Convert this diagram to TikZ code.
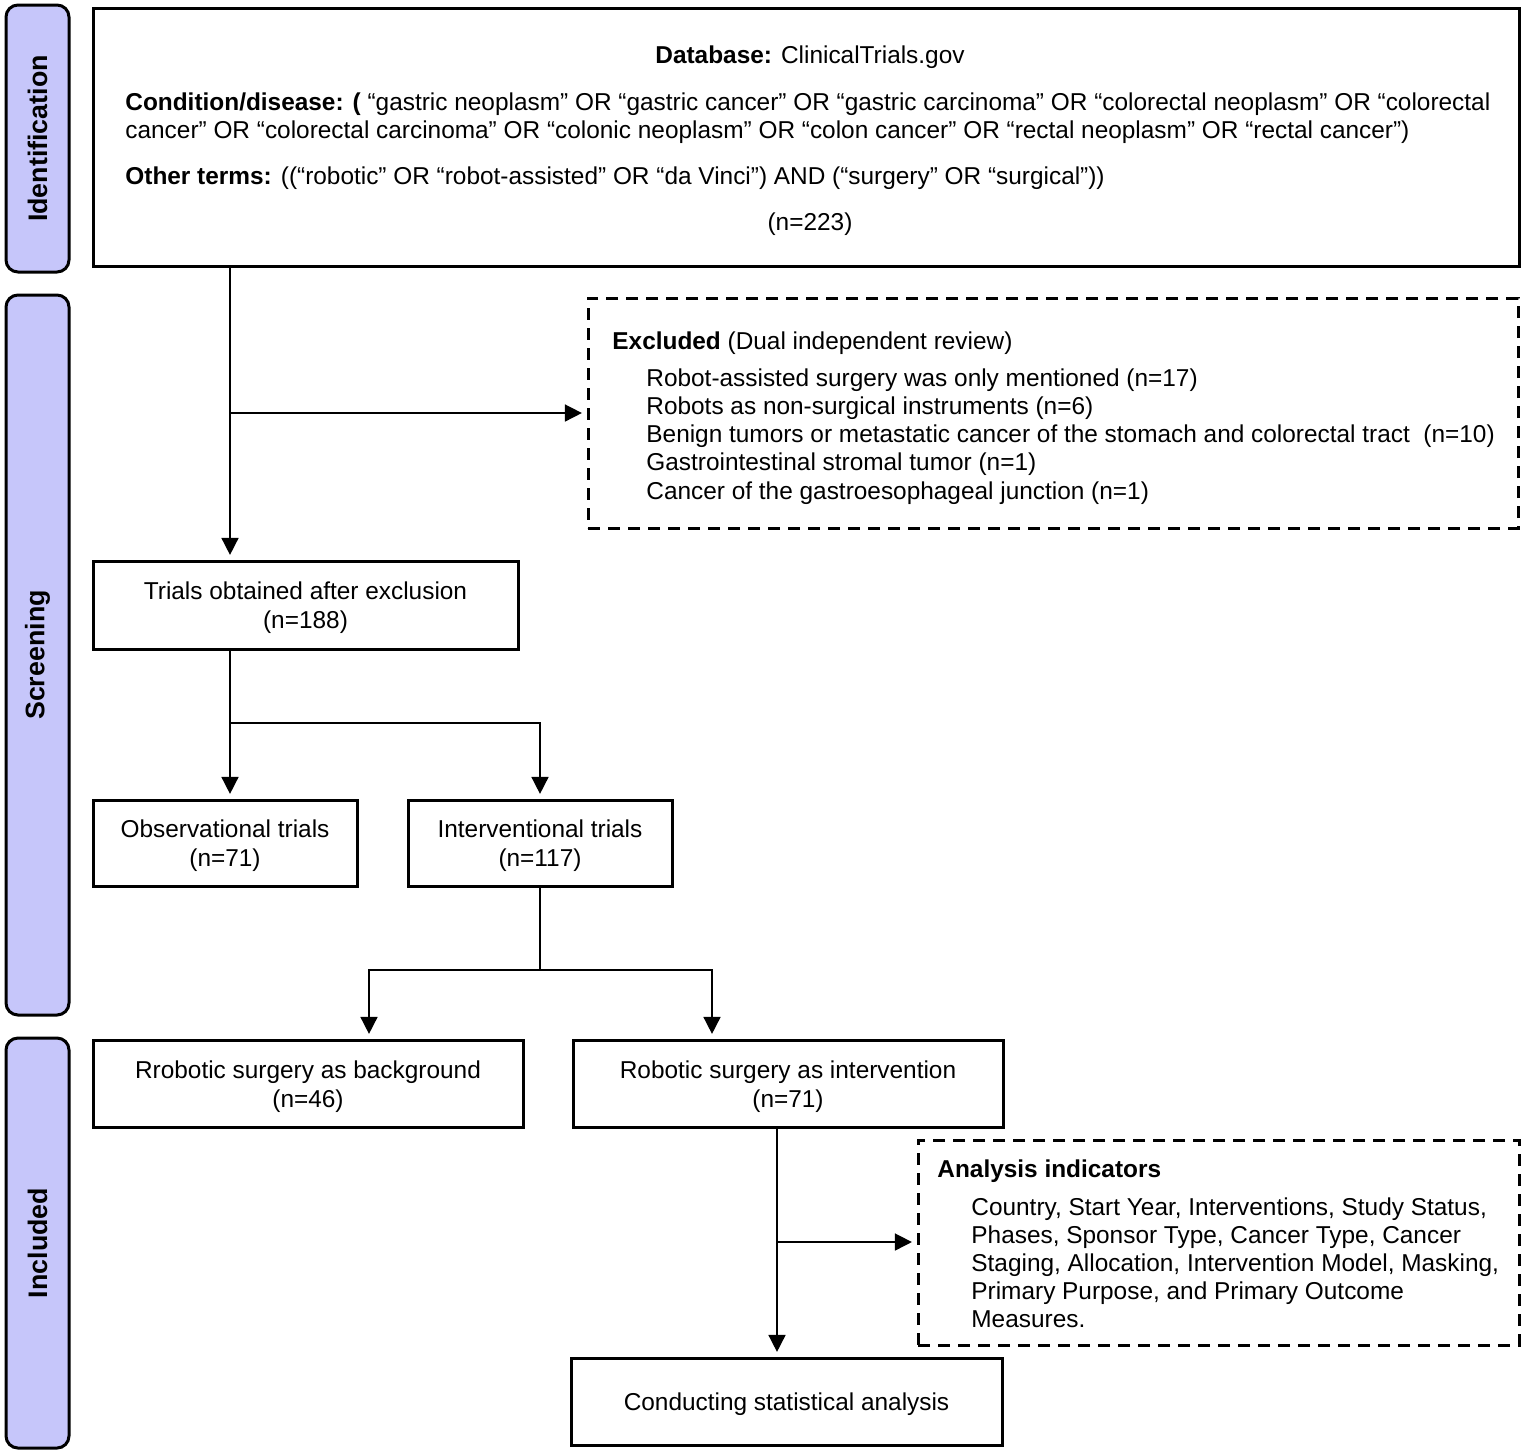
\documentclass[tikz,border=0pt]{standalone}
\usepackage{fontspec}
\setmainfont{Liberation Sans}
\usetikzlibrary{arrows.meta,calc}
\definecolor{barfill}{RGB}{198,198,250}
\newcommand\boxstrut{\rule{0pt}{11.9pt}}
\begin{document}
\begin{tikzpicture}[x=0.5pt,y=-0.5pt,
  every node/.style={font=\fontsize{12.2pt}{14.5pt}\selectfont, inner sep=0pt},
  box/.style={draw, line width=1.5pt, align=center, fill=white},
  dbox/.style={draw, line width=1.5pt, dash pattern=on 6pt off 4pt},
  bar/.style={draw, line width=1.5pt, fill=barfill, rounded corners=6pt, rotate=90,
    minimum height=31.5pt, font=\fontsize{13.4pt}{16pt}\selectfont\bfseries},
  conn/.style={line width=0.8pt},
  arr/.style={conn, shorten >=2.3pt, -{Triangle[length=8.5pt,width=8.5pt]}},
  txt/.style={anchor=base west},
  ctxt/.style={anchor=base}
]
\useasboundingbox (0,0) rectangle (1524,1453);

% side bars
\node[bar, minimum width=133.5pt] (idbar) at (37.5,138.5) {Identification};
\node[bar, minimum width=360pt] (scrbar) at (37.5,655) {Screening};
\node[bar, minimum width=205pt] (incbar) at (37.5,1243) {Included};

% boxes
\node[box, minimum width=713pt, minimum height=129pt] (top) at (806,137) {};
\node[dbox, minimum width=465pt, minimum height=115pt] (excl) at (1053,413) {};
\node[box, minimum width=212.5pt, minimum height=44pt] (trials) at (305.5,605) {\boxstrut Trials obtained after exclusion\\(n=188)};
\node[box, minimum width=132pt, minimum height=43pt] (obs) at (225,843) {\boxstrut Observational trials\\(n=71)};
\node[box, minimum width=132pt, minimum height=43pt] (int) at (540,843) {\boxstrut Interventional trials\\(n=117)};
\node[box, minimum width=215pt, minimum height=43.5pt] (bg) at (308,1083.5) {\boxstrut Rrobotic surgery as background\\(n=46)};
\node[box, minimum width=215pt, minimum height=43.5pt] (rsi) at (788,1083.5) {\boxstrut Robotic surgery as intervention\\(n=71)};
\node[dbox, minimum width=300.5pt, minimum height=102.5pt] (ana) at (1218.5,1242.5) {};
\node[box, minimum width=215.5pt, minimum height=43.5pt] (cond) at (786.5,1401.5) {\boxstrut Conducting statistical analysis};

% top box text
\node[ctxt] (t1) at (810,63) {\textbf{Database:} ClinicalTrials.gov};
\node[txt] (t2) at (125,110) {\textbf{Condition/disease: (} “gastric neoplasm” OR “gastric cancer” OR “gastric carcinoma” OR “colorectal neoplasm” OR “colorectal};
\node[txt] (t3) at (125,138) {cancer” OR “colorectal carcinoma” OR “colonic neoplasm” OR “colon cancer” OR “rectal neoplasm” OR “rectal cancer”)};
\node[txt] (t4) at (125,184) {\textbf{Other terms:} ((“robotic” OR “robot-assisted” OR “da Vinci”) AND (“surgery” OR “surgical”))};
\node[ctxt] (t5) at (810,230) {(n=223)};

% excluded text
\node[txt] (e0) at (612,349) {\textbf{Excluded} (Dual independent review)};
\node[txt] (e1) at (646,386) {Robot-assisted surgery was only mentioned (n=17)};
\node[txt] (e2) at (646,414) {Robots as non-surgical instruments (n=6)};
\node[txt] (e3) at (646,442) {Benign tumors or metastatic cancer of the stomach and colorectal tract~~(n=10)};
\node[txt] (e4) at (646,470) {Gastrointestinal stromal tumor (n=1)};
\node[txt] (e5) at (646,499) {Cancer of the gastroesophageal junction (n=1)};

% analysis text
\node[txt] (a0) at (937,1177) {\textbf{Analysis indicators}};
\node[txt] (a1) at (971,1215) {Country, Start Year, Interventions, Study Status,};
\node[txt] (a2) at (971,1243) {Phases, Sponsor Type, Cancer Type, Cancer};
\node[txt] (a3) at (971,1271) {Staging, Allocation, Intervention Model, Masking,};
\node[txt] (a4) at (971,1299) {Primary Purpose, and Primary Outcome};
\node[txt] (a5) at (971,1327) {Measures.};

% connectors
\coordinate (j1) at (230,413);
\draw[arr] (top.south -| j1) -- (trials.north -| j1);
\draw[arr] (j1) -- (excl.west |- j1);

\coordinate (j2) at (230,723);
\draw[arr] (trials.south -| j2) -- (obs.north -| j2);
\draw[arr] (j2) -| (int.north);

\coordinate (j3) at (540,970);
\coordinate (l3) at (369,970);
\coordinate (r3) at (712,970);
\draw[conn] (int.south) -- (j3);
\draw[arr] (j3) -- (l3) -- (bg.north -| l3);
\draw[arr] (j3) -- (r3) -- (rsi.north -| r3);

\coordinate (j4) at (777,1242);
\draw[arr] (rsi.south -| j4) -- (cond.north -| j4);
\draw[arr] (j4) -- (ana.west |- j4);
\end{tikzpicture}
\end{document}
